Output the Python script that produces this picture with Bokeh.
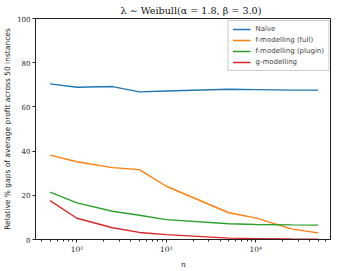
from bokeh.plotting import figure
from bokeh.models import FixedTicker, Legend, LegendItem, Range1d
from bokeh.embed import file_html
from bokeh.resources import INLINE

n_values = [50, 100, 250, 500, 1000, 5000, 10000, 25000, 50000]
naive = [70.4, 68.9, 69.2, 66.8, 67.2, 68.0, 67.8, 67.6, 67.6]
f_full = [38.2, 35.2, 32.5, 31.6, 24.1, 12.1, 9.8, 4.8, 3.0]
f_plugin = [21.4, 16.6, 12.8, 11.0, 9.0, 7.1, 6.8, 6.6, 6.5]
g_model = [17.6, 9.6, 5.3, 3.2, 2.2, 0.6, 0.4, 0.2, 0.1]

series_names = ["Naïve", "f-modelling (full)", "f-modelling (plugin)", "g-modelling"]
series_values = [naive, f_full, f_plugin, g_model]
colors = ["#1f77b4", "#ff7f0e", "#2ca02c", "#d62728"]

x_major = [100, 1000, 10000]
x_labels = {100: "10²", 1000: "10³", 10000: "10⁴"}
y_ticks = [0, 20, 40, 60, 80, 100]

minor = []
for dec in [10, 100, 1000, 10000]:
    for k in range(2, 10):
        minor.append(dec * k)

p = figure(frame_width=296, frame_height=221, x_axis_type="log", output_backend="svg",
           toolbar_location=None,
           x_range=Range1d(34.4, 70500), y_range=Range1d(0, 100),
           title="λ ∼ Weibull(α = 1.8, β = 3.0)")
p.min_border_left = 2
p.min_border_right = 0
p.min_border_top = 0
p.min_border_bottom = 0

p.title.align = "left"
p.title.text_font = "DejaVu Serif"
p.title.text_font_size = "9.6px"
p.title.text_font_style = "normal"
p.title.text_color = "#111111"
p.title.offset = 85
p.title.standoff = 5

p.xgrid.visible = False
p.ygrid.visible = False
p.outline_line_color = "#222222"
p.outline_line_width = 1
p.outline_line_alpha = 1

p.xaxis.ticker = FixedTicker(ticks=x_major, minor_ticks=minor)
p.xaxis.major_label_overrides = x_labels
p.yaxis.ticker = FixedTicker(ticks=y_ticks)
for ax in [p.xaxis[0], p.yaxis[0]]:
    ax.major_label_text_font = "DejaVu Serif"
    ax.major_label_text_font_size = "7px"
    ax.major_label_text_color = "#222222"
    ax.major_tick_out = 3
    ax.major_tick_in = 0
    ax.minor_tick_out = 2
    ax.minor_tick_in = 0
    ax.axis_line_color = "#222222"
    ax.major_tick_line_color = "#222222"
    ax.minor_tick_line_color = "#222222"
    ax.major_label_standoff = 2
    ax.axis_label_text_color = "#222222"
p.xaxis.major_label_text_font_size = "7.5px"
p.xaxis.axis_label = "n"
p.xaxis.axis_label_text_font = "DejaVu Serif"
p.xaxis.axis_label_text_font_style = "italic"
p.xaxis.axis_label_text_font_size = "7.5px"
p.xaxis.axis_label_standoff = 3
p.yaxis.axis_label = "Relative % gaps of average profit across 50 instances"
p.yaxis.axis_label_text_font = "DejaVu Sans"
p.yaxis.axis_label_text_font_style = "normal"
p.yaxis.axis_label_text_font_size = "7.5px"
p.yaxis.axis_label_standoff = 2

items = []
for name, vals, c in zip(series_names, series_values, colors):
    r = p.line(n_values, vals, line_color=c, line_width=1.4)
    items.append(LegendItem(label=name, renderers=[r]))

legend = Legend(items=items, location="top_right")
legend.label_text_font = "DejaVu Sans"
legend.label_text_font_size = "7px"
legend.label_height = 8
legend.glyph_height = 8
legend.glyph_width = 18
legend.spacing = 3
legend.padding = 4
legend.margin = 2
legend.border_line_color = "#cccccc"
legend.border_line_alpha = 1
legend.background_fill_alpha = 0.8
p.add_layout(legend)

open("out.html", "w").write(file_html(p, INLINE))
